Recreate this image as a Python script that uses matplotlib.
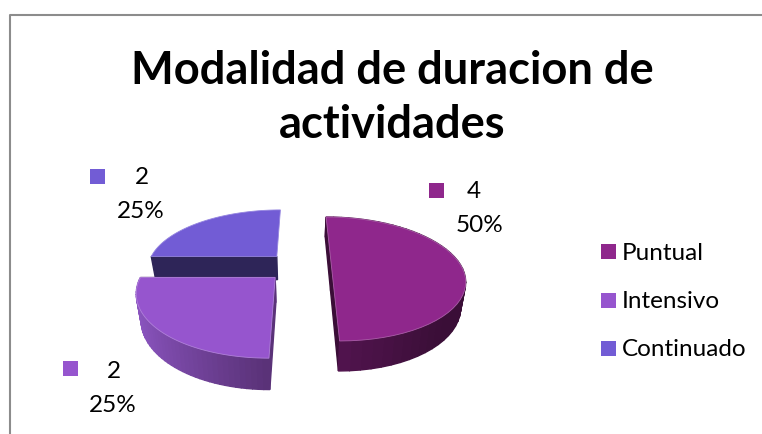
import matplotlib
matplotlib.use('Agg')
import matplotlib.pyplot as plt
from matplotlib.patches import Polygon, Rectangle
import numpy as np

categorias = ['Puntual', 'Intensivo', 'Continuado']
valores = [4, 2, 2]
titulo = 'Modalidad de duracion de\nactividades'

# colores: cara superior, lateral claro, lateral oscuro, cara de corte
c_top = ['#8F278C', '#9655CE', '#725CD5']
c_lat1 = ['#3A0E37', '#5A3278', '#2E2558']
c_lat2 = ['#52144F', '#8F58C6', '#2E2558']
c_cut = ['#3A0E37', '#5A3278', '#2E2558']

# posicion de las etiquetas y de la leyenda (px)
etq_xy = [(480, 192), (113, 371), (141, 178)]
key_xy = [(436, 190), (70, 368), (97, 176)]
ley_y = [251, 300, 348]

# perspectiva del pastel
X0, Y0, A, H, K = 299, 266.6, 130, 59.5, 0.2
EXPLOTA, PROF = 0.25, 24

plt.rcParams['font.family'] = ['Lato', 'DejaVu Sans']
fig = plt.figure(figsize=(7.62, 4.34), dpi=100)
ax = fig.add_axes([0, 0, 1, 1])
ax.set_xlim(0, 762)
ax.set_ylim(434, 0)
ax.axis('off')


def proy(u, v, z=0):
    s = 1 / (1 - K * v)
    x = X0 + A * u * s * (1 - 0.03 * z)
    y = Y0 + H * v * s + PROF * s * z
    return x, y


def mezcla(c1, c2, t):
    a = np.array(matplotlib.colors.to_rgb(c1))
    b = np.array(matplotlib.colors.to_rgb(c2))
    return tuple(a + (b - a) * t)


# marco del grafico
ax.plot([9.5, 9.5, 762], [434, 14.5, 14.5], color='#8C8C8C', lw=1.5, solid_capstyle='butt')

ax.text(392, 98, titulo, ha='center', va='center', fontsize=32.6, fontweight='bold',
        color='black', linespacing=1.35)

angulos = np.cumsum([0] + valores) / sum(valores) * 2 * np.pi
orden = [2, 0, 1]  # de atras hacia adelante

for i in orden:
    t1, t2 = angulos[i], angulos[i + 1]
    med = (t1 + t2) / 2
    cu, cv = EXPLOTA * np.sin(med), -EXPLOTA * np.cos(med)
    th = np.linspace(t1, t2, 46)
    us = cu + np.sin(th)
    vs = cv - np.cos(th)

    caras = []
    # caras de corte (la del ultimo sector queda oculta)
    for t in (t1, t2):
        if i == 2 and t == t2:
            continue
        u, v = cu + np.sin(t), cv - np.cos(t)
        pts = [proy(cu, cv), proy(u, v), proy(u, v, 1), proy(cu, cv, 1)]
        caras.append(((cv + v) / 2, pts, c_cut[i]))
    # pared exterior con degradado (el sector de atras no la muestra)
    for j in range(len(th) - 1):
        if i == 2:
            break
        pts = [proy(us[j], vs[j]), proy(us[j + 1], vs[j + 1]),
               proy(us[j + 1], vs[j + 1], 1), proy(us[j], vs[j], 1)]
        # oscuro a la derecha, claro a la izquierda
        if i == 0:
            frac = np.clip(1 - np.sin(th[j]) * 1.4, 0, 1)
        else:
            frac = np.clip(-np.sin(th[j]), 0, 1)
        caras.append(((vs[j] + vs[j + 1]) / 2, pts, mezcla(c_lat1[i], c_lat2[i], frac)))

    for _, pts, col in sorted(caras, key=lambda c: c[0]):
        ax.add_patch(Polygon(pts, closed=True, facecolor=col, edgecolor=col, lw=1.0))

    tapa = [proy(cu, cv)] + [proy(a, b) for a, b in zip(us, vs)]
    ax.add_patch(Polygon(tapa, closed=True, facecolor=c_top[i],
                         edgecolor=mezcla(c_top[i], '#FFFFFF', 0.25), lw=0.6))

# etiquetas de datos
total = sum(valores)
for i, val in enumerate(valores):
    x, y = etq_xy[i]
    ax.text(x - 6 if i == 0 else x + 1, y, str(val), ha='center', va='center', fontsize=17.5, color='black')
    ax.text(x, y + 34, f'{val / total:.0%}', ha='center', va='center', fontsize=17.5, color='black')
    kx, ky = key_xy[i]
    ax.add_patch(Rectangle((kx - 7.5, ky - 7.5), 15, 15, facecolor=c_top[i], edgecolor='none'))

# leyenda
for i, cat in enumerate(categorias):
    ax.add_patch(Rectangle((601, ley_y[i] - 7.5), 15, 15, facecolor=c_top[i], edgecolor='none'))
    ax.text(622, ley_y[i] + 2, cat, ha='left', va='center', fontsize=17.5, color='black')

fig.savefig('out.png', dpi=100)
